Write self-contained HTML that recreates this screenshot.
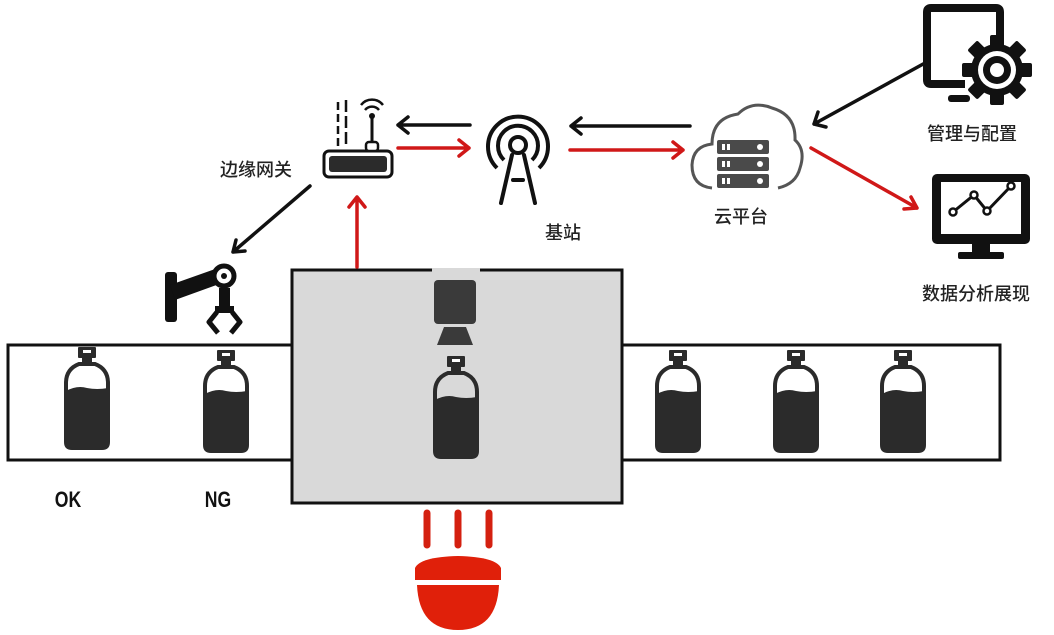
<!DOCTYPE html>
<html><head><meta charset="utf-8"><style>
html,body{margin:0;padding:0;background:#fff;}
svg{display:block}
text{font-family:"Liberation Sans","Noto Sans CJK SC",sans-serif;font-weight:500;fill:#222}
text.b{font-weight:bold;fill:#111}
</style></head><body>
<svg width="1054" height="635" viewBox="0 0 1054 635" xmlns="http://www.w3.org/2000/svg">
<defs>
<g id="bottle">
 <rect x="-9" y="0" width="18" height="11" rx="1" fill="#2b2b2b"/>
 <rect x="-4" y="3" width="8" height="3" fill="#fff"/>
 <rect x="-5" y="11" width="10" height="6" fill="#2b2b2b"/>
 <path d="M-8,17 L8,17 Q21,22 21,36 L21,95 Q21,101 15,101 L-15,101 Q-21,101 -21,95 L-21,36 Q-21,22 -8,17 Z" fill="none" stroke="#2b2b2b" stroke-width="4"/>
 <path d="M-21,44 Q-10,38 0,41 Q10,43 21,41 L21,95 Q21,101 15,101 L-15,101 Q-21,101 -21,95 Z" fill="#2b2b2b"/>
</g>
</defs>

<rect x="8" y="345" width="992" height="115" fill="#fff" stroke="#111" stroke-width="3"/>
<rect x="292" y="270" width="330" height="233" fill="#d9d9d9" stroke="#111" stroke-width="3"/>
<rect x="432" y="268" width="48" height="5" fill="#d9d9d9"/>

<rect x="434" y="280" width="42" height="44" rx="4" fill="#3a3a3a"/>
<path d="M444,327 L466,327 L473,345 L437,345 Z" fill="#3a3a3a"/>

<use href="#bottle" x="87" y="347"/>
<use href="#bottle" x="226" y="350"/>
<use href="#bottle" x="456" y="356"/>
<use href="#bottle" x="678" y="350"/>
<use href="#bottle" x="796" y="350"/>
<use href="#bottle" x="903" y="350"/>

<text class="b" x="68" y="507" font-size="22" text-anchor="middle" transform="translate(68,0) scale(0.8,1) translate(-68,0)">OK</text>
<text class="b" x="218" y="507" font-size="22" text-anchor="middle" transform="translate(218,0) scale(0.8,1) translate(-218,0)">NG</text>

<g stroke="#d42010" stroke-width="7" stroke-linecap="round">
<line x1="427" y1="513" x2="427" y2="545"/><line x1="458" y1="513" x2="458" y2="545"/><line x1="489" y1="513" x2="489" y2="545"/>
</g>
<path d="M415,568 Q420,557 458,556 Q496,557 501,568 L501,580 L415,580 Z" fill="#e0200a"/>
<path d="M417,585 L499,585 Q497,630 458,630 Q419,630 417,585 Z" fill="#e0200a"/>

<rect x="165" y="272" width="12" height="50" rx="3" fill="#111"/>
<path d="M170,285 L218,268 L222,283 L175,300 Z" fill="#111"/>
<circle cx="224" cy="276" r="10" fill="#fff" stroke="#111" stroke-width="5"/>
<circle cx="224" cy="276" r="3" fill="#111"/>
<rect x="219" y="288" width="11" height="20" fill="#111"/>
<path d="M217,312 L209,322 L218,333 M232,312 L240,322 L231,333" fill="none" stroke="#111" stroke-width="5" stroke-linejoin="round"/>
<rect x="215" y="306" width="19" height="7" fill="#111"/>

<rect x="324" y="151" width="68" height="26" rx="5" fill="#fff" stroke="#111" stroke-width="3"/>
<rect x="329" y="156" width="58" height="16" rx="3" fill="#2b2b2b"/>
<line x1="372" y1="116" x2="372" y2="146" stroke="#111" stroke-width="3"/>
<rect x="366" y="142" width="12" height="9" rx="3" fill="#fff" stroke="#111" stroke-width="2.5"/>
<circle cx="372" cy="116" r="3" fill="#111"/>
<path d="M365,110 A9,9 0 0 1 379,110 M361,105 A14,14 0 0 1 383,105" fill="none" stroke="#111" stroke-width="2.5"/>
<line x1="338" y1="102" x2="338" y2="146" stroke="#111" stroke-width="2.5" stroke-dasharray="8,4"/>
<line x1="346" y1="100" x2="346" y2="146" stroke="#111" stroke-width="2.5" stroke-dasharray="12,4"/>
<text x="256" y="176" font-size="18" text-anchor="middle">边缘网关</text>

<circle cx="518" cy="145" r="8" fill="none" stroke="#111" stroke-width="4"/>
<path d="M504,160 A20,20 0 1 1 532,160" fill="none" stroke="#111" stroke-width="4"/>
<path d="M497,168 A30,30 0 1 1 539,168" fill="none" stroke="#111" stroke-width="4"/>
<path d="M512,155 L501,203 M524,155 L535,203 M513,180 L523,180" fill="none" stroke="#111" stroke-width="4" stroke-linecap="round"/>
<text x="563" y="239" font-size="18" text-anchor="middle">基站</text>

<path d="M712,188 Q692,186 692,165 Q693,146 712,144 Q712,118 738,114 Q752,100 772,108 Q796,115 795,140 Q806,150 800,168 Q796,184 778,188" fill="none" stroke="#555" stroke-width="3"/>
<g fill="#4a4a4a">
<rect x="717" y="140" width="52" height="14" rx="2"/><rect x="717" y="157" width="52" height="14" rx="2"/><rect x="717" y="174" width="52" height="14" rx="2"/>
</g>
<g fill="#fff">
<rect x="722" y="144" width="3" height="6"/><rect x="727" y="144" width="3" height="6"/><circle cx="760" cy="147" r="3"/>
<rect x="722" y="161" width="3" height="6"/><rect x="727" y="161" width="3" height="6"/><circle cx="760" cy="164" r="3"/>
<rect x="722" y="178" width="3" height="6"/><rect x="727" y="178" width="3" height="6"/><circle cx="760" cy="181" r="3"/>
</g>
<text x="741" y="223" font-size="18" text-anchor="middle">云平台</text>

<path d="M1000,56 L1000,12 Q1000,8 996,8 L931,8 Q927,8 927,12 L927,80 Q927,84 931,84 L965,84" fill="none" stroke="#111" stroke-width="8"/>
<rect x="948" y="95" width="22" height="7" rx="3" fill="#111"/>
<g transform="translate(997,70)">
<circle r="30" fill="#fff"/>
<circle r="26" fill="#111"/>
<g fill="#111"><rect x="-7" y="-35" width="14" height="70" rx="2"/><rect x="-7" y="-35" width="14" height="70" rx="2" transform="rotate(45)"/><rect x="-7" y="-35" width="14" height="70" rx="2" transform="rotate(90)"/><rect x="-7" y="-35" width="14" height="70" rx="2" transform="rotate(135)"/></g>
<circle r="19" fill="#fff"/>
<circle r="14" fill="#111"/>
<circle r="7" fill="#fff"/>
</g>
<text x="972" y="140" font-size="18" text-anchor="middle">管理与配置</text>

<rect x="932" y="174" width="98" height="70" rx="5" fill="#111"/>
<rect x="941" y="182" width="80" height="52" fill="#fff"/>
<rect x="972" y="244" width="18" height="10" fill="#111"/>
<rect x="958" y="252" width="46" height="7" rx="2" fill="#111"/>
<polyline points="953,212 974,195 987,211 1011,186" fill="none" stroke="#111" stroke-width="3"/>
<g fill="#fff" stroke="#111" stroke-width="2.5"><circle cx="953" cy="212" r="3.5"/><circle cx="974" cy="195" r="3.5"/><circle cx="987" cy="211" r="3.5"/><circle cx="1011" cy="186" r="3.5"/></g>
<text x="976" y="300" font-size="18" text-anchor="middle">数据分析展现</text>

<g fill="none" stroke-width="3.5" stroke-linecap="round" stroke-linejoin="round">
<g stroke="#111">
<path d="M470,125 L398,125 M408,117 L398,125 L408,133"/>
<path d="M690,126 L571,126 M581,118 L571,126 L581,134"/>
<path d="M925,63 L814,124 M818,112 L814,124 L826,127"/>
<path d="M310,186 L233,252 M236,240 L233,252 L245,251"/>
</g>
<g stroke="#d01818">
<path d="M398,148 L469,148 M459,140 L469,148 L459,156"/>
<path d="M570,150 L683,150 M673,142 L683,150 L673,158"/>
<path d="M811,148 L917,208 M904,209 L917,208 L911,197"/>
<path d="M357,267 L357,197 M349,207 L357,197 L365,207"/>
</g>
</g>
</svg>
</body></html>
